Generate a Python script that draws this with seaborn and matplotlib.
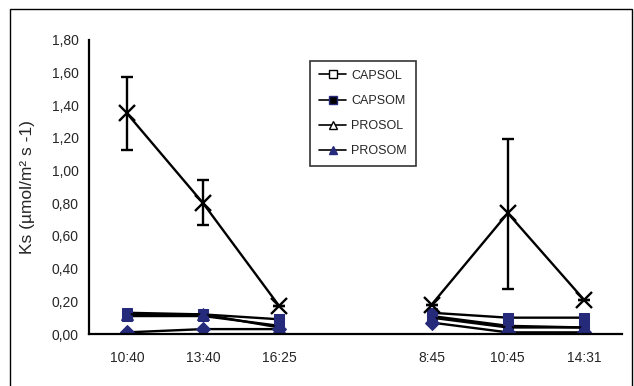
import matplotlib
matplotlib.use("Agg")
import matplotlib.pyplot as plt
import seaborn as sns
import pandas as pd
import numpy as np
from matplotlib.lines import Line2D
from matplotlib.patches import Rectangle
from matplotlib.ticker import FuncFormatter, FixedLocator

# ---- data ----
categories = ["10:40", "13:40", "16:25", "", "8:45", "10:45", "14:31"]
day1_idx = [0, 1, 2]
day2_idx = [4, 5, 6]
capsol = [0.13, 0.12, 0.09, None, 0.13, 0.10, 0.10]
capsom = [0.11, 0.11, 0.05, None, 0.11, 0.05, 0.04]
prosol = [0.12, 0.12, 0.04, None, 0.10, 0.04, 0.04]
prosom = [0.01, 0.03, 0.03, None, 0.07, 0.01, 0.01]
ks_total = [1.35, 0.80, 0.17, None, 0.18, 0.74, 0.21]
ks_err_low = [0.225, 0.13, 0.0, None, 0.0, 0.465, 0.0]
ks_err_high = [0.225, 0.145, 0.0, None, 0.0, 0.455, 0.0]
legend_labels = ["CAPSOL", "CAPSOM", "PROSOL", "PROSOM"]

sns.set_style("white")
plt.rcParams['font.family'] = ['Liberation Sans', 'DejaVu Sans']

fig = plt.figure(figsize=(6.34, 3.86), dpi=100)
ax = fig.add_axes([89/634, (386-334)/386, (622-89)/634, (334-40)/386])

navy = "#262a7a"
series = [(capsol, "s"), (capsom, "s"), (prosol, "^"), (prosom, "D")]
for vals, mk in series:
    for idx in (day1_idx, day2_idx):
        df = pd.DataFrame({"x": idx, "y": [vals[i] for i in idx]})
        sns.lineplot(data=df, x="x", y="y", ax=ax, color="black", lw=1.7,
                     marker=mk, markersize=7 if mk != "^" else 8,
                     markerfacecolor=navy, markeredgecolor=navy, legend=False)

for idx in (day1_idx, day2_idx):
    df = pd.DataFrame({"x": idx, "y": [ks_total[i] for i in idx]})
    sns.lineplot(data=df, x="x", y="y", ax=ax, color="black", lw=1.7,
                 marker="x", markersize=11, markeredgewidth=1.7,
                 markeredgecolor="black", legend=False)
    ax.errorbar(idx, [ks_total[i] for i in idx],
                yerr=[[ks_err_low[i] for i in idx], [ks_err_high[i] for i in idx]],
                fmt="none", ecolor="black", elinewidth=1.7, capsize=4.5, capthick=1.7)

ax.set_xlim(-0.5, 6.5)
ax.set_ylim(0, 1.8)
ax.set_yticks(np.arange(0, 1.81, 0.2))
ax.yaxis.set_major_formatter(FuncFormatter(lambda v, p: f"{v:.2f}".replace(".", ",")))
ax.set_xticks(range(len(categories)))
ax.set_xticklabels(categories)
ax.xaxis.set_minor_locator(FixedLocator(np.arange(-0.5, 6.6, 1)))
ax.tick_params(axis="x", which="major", length=0, pad=12, labelsize=10)
ax.tick_params(axis="x", which="minor", length=5, width=1.5, direction="out", color="black")
ax.tick_params(axis="y", length=4, width=1.5, direction="out", labelsize=10, color="black")
ax.set_xlabel("")
ax.set_ylabel("Ks (µmol/m² s -1)", fontsize=12.5, labelpad=12)
for s in ["top", "right"]:
    ax.spines[s].set_visible(False)
for s in ["left", "bottom"]:
    ax.spines[s].set_color("black")
    ax.spines[s].set_linewidth(1.6)
ax.set_facecolor("white")

handles = [
    Line2D([], [], color="black", lw=1.2, marker="s", markersize=6, markerfacecolor="white", markeredgecolor="black"),
    Line2D([], [], color="black", lw=1.2, marker="s", markersize=6, markerfacecolor="black", markeredgecolor=navy),
    Line2D([], [], color="black", lw=1.2, marker="^", markersize=6, markerfacecolor="white", markeredgecolor="black"),
    Line2D([], [], color="black", lw=1.2, marker="^", markersize=6, markerfacecolor=navy, markeredgecolor=navy),
]
leg = fig.legend(handles, legend_labels, loc="upper left",
                 bbox_to_anchor=(310/634, 1 - 61/386), frameon=True, fancybox=False,
                 edgecolor="black", fontsize=9, handlelength=2.2, labelspacing=1.05,
                 borderpad=0.7, handletextpad=0.4, borderaxespad=0)
leg.get_frame().set_linewidth(1.2)

fig.patches.append(Rectangle((10/634, -0.05), (632-10)/634, 1.05 - 9/386,
                             transform=fig.transFigure, fill=False, edgecolor="black", lw=1.0))

fig.savefig("out.png", dpi=100, facecolor="white")
